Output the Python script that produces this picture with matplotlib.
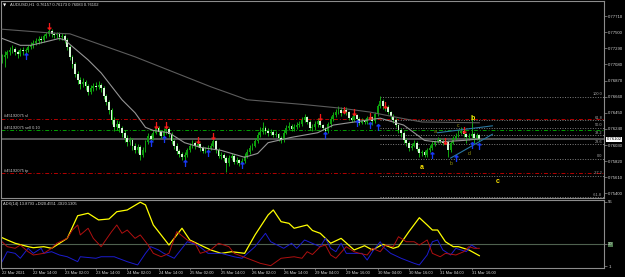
import numpy as np
import pandas as pd
import matplotlib
matplotlib.use('Agg')
import matplotlib.pyplot as plt

plt.rcParams['font.family'] = ['Liberation Sans', 'DejaVu Sans']

symbol_title = 'AUDUSD,H1  0.76157 0.76173 0.76083 0.76102'
adx_title = 'ADX(14) 13.8793 +DI20.4551 -DI20.1305'

# H1 bars, 22 Mar 02:00 .. 31 Mar 19:00
first_open = 0.7714
closes = [
    0.7718, 0.7720, 0.7724, 0.7727, 0.7728, 0.7724, 0.7722, 0.7727, 0.7725, 0.7727,
    0.7731, 0.7733, 0.7736, 0.7739, 0.7741, 0.7740, 0.7745, 0.7748, 0.7752, 0.7748,
    0.7746, 0.7748, 0.7744, 0.7745, 0.7740, 0.7731, 0.7718, 0.7709, 0.7696, 0.7688,
    0.7682, 0.7685, 0.7680, 0.7672, 0.7677, 0.7680, 0.7679, 0.7681, 0.7677, 0.7667,
    0.7659, 0.7649, 0.7636, 0.7626, 0.7630, 0.7625, 0.7619, 0.7612, 0.7607, 0.7609,
    0.7602, 0.7596, 0.7600, 0.7590, 0.7596, 0.7607, 0.7615, 0.7611, 0.7619, 0.7625,
    0.7620, 0.7615, 0.7621, 0.7624, 0.7617, 0.7608, 0.7602, 0.7595, 0.7591, 0.7587,
    0.7590, 0.7596, 0.7602, 0.7606, 0.7602, 0.7604, 0.7599, 0.7595, 0.7598, 0.7599,
    0.7602, 0.7608, 0.7596, 0.7589, 0.7590, 0.7586, 0.7579, 0.7586, 0.7589, 0.7581,
    0.7583, 0.7579, 0.7582, 0.7589, 0.7594, 0.7599, 0.7602, 0.7608, 0.7616, 0.7620,
    0.7625, 0.7621, 0.7619, 0.7620, 0.7616, 0.7617, 0.7612, 0.7609, 0.7619, 0.7625,
    0.7628, 0.7624, 0.7626, 0.7629, 0.7630, 0.7636, 0.7639, 0.7633, 0.7625, 0.7626,
    0.7630, 0.7634, 0.7629, 0.7625, 0.7621, 0.7630, 0.7637, 0.7642, 0.7646, 0.7649,
    0.7645, 0.7649, 0.7646, 0.7638, 0.7636, 0.7642, 0.7637, 0.7632, 0.7634, 0.7633,
    0.7638, 0.7639, 0.7634, 0.7643, 0.7654, 0.7660, 0.7654, 0.7652, 0.7646, 0.7641,
    0.7636, 0.7629, 0.7622, 0.7619, 0.7609, 0.7606, 0.7599, 0.7602, 0.7606, 0.7598,
    0.7592, 0.7594, 0.7590, 0.7596, 0.7599, 0.7604, 0.7607, 0.7609, 0.7608, 0.7606,
    0.7607, 0.7596, 0.7606, 0.7612, 0.7615, 0.7619, 0.7621, 0.7617, 0.7613, 0.7615,
    0.7617, 0.7612, 0.76157, 0.76102,
]
highs = [
    0.7722, 0.7725, 0.7727, 0.7731, 0.7733, 0.7731, 0.7727, 0.7729, 0.7731, 0.7730,
    0.7734, 0.7737, 0.7740, 0.7743, 0.7745, 0.7745, 0.7748, 0.7751, 0.7756, 0.7754,
    0.7751, 0.7751, 0.7750, 0.7749, 0.7748, 0.7742, 0.7733, 0.7721, 0.7711, 0.7699,
    0.7692, 0.7690, 0.7688, 0.7683, 0.7681, 0.7684, 0.7685, 0.7686, 0.7684, 0.7680,
    0.7670, 0.7662, 0.7651, 0.7639, 0.7635, 0.7634, 0.7628, 0.7622, 0.7616, 0.7613,
    0.7612, 0.7605, 0.7604, 0.7603, 0.7600, 0.7610, 0.7619, 0.7618, 0.7622, 0.7632,
    0.7628, 0.7623, 0.7625, 0.7631, 0.7627, 0.7620, 0.7611, 0.7605, 0.7598, 0.7594,
    0.7594, 0.7599, 0.7605, 0.7609, 0.7608, 0.7610, 0.7606, 0.7602, 0.7601, 0.7603,
    0.7605, 0.7612, 0.7610, 0.7599, 0.7594, 0.7592, 0.7589, 0.7590, 0.7593, 0.7591,
    0.7587, 0.7585, 0.7586, 0.7592, 0.7598, 0.7603, 0.7606, 0.7612, 0.7620, 0.7626,
    0.7633, 0.7628, 0.7625, 0.7624, 0.7623, 0.7621, 0.7619, 0.7615, 0.7622, 0.7629,
    0.7633, 0.7630, 0.7630, 0.7633, 0.7634, 0.7639, 0.7644, 0.7641, 0.7635, 0.7630,
    0.7634, 0.7638, 0.7636, 0.7631, 0.7627, 0.7633, 0.7641, 0.7646, 0.7650, 0.7654,
    0.7652, 0.7653, 0.7652, 0.7648, 0.7641, 0.7647, 0.7644, 0.7639, 0.7638, 0.7637,
    0.7641, 0.7643, 0.7641, 0.7646, 0.7657, 0.7667, 0.7663, 0.7657, 0.7655, 0.7648,
    0.7643, 0.7638, 0.7631, 0.7625, 0.7621, 0.7612, 0.7608, 0.7606, 0.7609, 0.7608,
    0.7600, 0.7597, 0.7596, 0.7599, 0.7603, 0.7608, 0.7610, 0.7613, 0.7612, 0.7611,
    0.7612, 0.7609, 0.7608, 0.7615, 0.7619, 0.7623, 0.7626, 0.7624, 0.7619, 0.7619,
    0.7642, 0.7620, 0.7619, 0.76173,
]
lows = [
    0.7710, 0.7705, 0.7717, 0.7721, 0.7723, 0.7720, 0.7717, 0.7719, 0.7721, 0.7720,
    0.7724, 0.7728, 0.7730, 0.7733, 0.7735, 0.7736, 0.7737, 0.7742, 0.7745, 0.7744,
    0.7742, 0.7743, 0.7740, 0.7740, 0.7736, 0.7727, 0.7714, 0.7704, 0.7692, 0.7683,
    0.7676, 0.7678, 0.7675, 0.7668, 0.7669, 0.7674, 0.7675, 0.7676, 0.7672, 0.7663,
    0.7655, 0.7644, 0.7631, 0.7621, 0.7622, 0.7620, 0.7614, 0.7607, 0.7602, 0.7603,
    0.7597, 0.7592, 0.7593, 0.7583, 0.7587, 0.7594, 0.7604, 0.7608, 0.7609, 0.7617,
    0.7616, 0.7612, 0.7613, 0.7618, 0.7614, 0.7604, 0.7598, 0.7591, 0.7587, 0.7584,
    0.7582, 0.7588, 0.7594, 0.7599, 0.7598, 0.7600, 0.7595, 0.7592, 0.7593, 0.7594,
    0.7596, 0.7600, 0.7593, 0.7586, 0.7585, 0.7582, 0.7568, 0.7576, 0.7583, 0.7578,
    0.7578, 0.7576, 0.7577, 0.7580, 0.7586, 0.7591, 0.7596, 0.7600, 0.7606, 0.7613,
    0.7617, 0.7618, 0.7615, 0.7616, 0.7613, 0.7613, 0.7608, 0.7606, 0.7607, 0.7617,
    0.7622, 0.7621, 0.7621, 0.7624, 0.7626, 0.7628, 0.7633, 0.7630, 0.7622, 0.7621,
    0.7623, 0.7627, 0.7626, 0.7622, 0.7618, 0.7619, 0.7627, 0.7634, 0.7639, 0.7643,
    0.7641, 0.7643, 0.7642, 0.7635, 0.7633, 0.7634, 0.7634, 0.7629, 0.7630, 0.7630,
    0.7631, 0.7635, 0.7629, 0.7632, 0.7641, 0.7651, 0.7650, 0.7648, 0.7643, 0.7637,
    0.7632, 0.7626, 0.7619, 0.7614, 0.7606, 0.7602, 0.7595, 0.7596, 0.7600, 0.7595,
    0.7588, 0.7589, 0.7587, 0.7588, 0.7594, 0.7597, 0.7602, 0.7605, 0.7605, 0.7603,
    0.7604, 0.7587, 0.7594, 0.7604, 0.7610, 0.7613, 0.7617, 0.7614, 0.7606, 0.7610,
    0.7612, 0.7606, 0.7609, 0.76083,
]

# moving averages (bar number, price)
slow_ma_bar = [0, 19, 26, 51, 80, 94, 115, 130, 141, 153, 161, 183]
slow_ma = [0.7754, 0.7749, 0.7748, 0.7718, 0.7679, 0.7662, 0.7656, 0.7651, 0.7646,
           0.7638, 0.7633, 0.7632]
fast_ma_bar = [0, 7, 11, 16, 22, 24, 33, 38, 46, 51, 55, 58, 64, 70, 76, 84, 93, 98,
               102, 111, 121, 127, 135, 145, 154, 162, 167, 177, 183]
fast_ma = [0.7742, 0.7733, 0.7733, 0.7737, 0.7742, 0.7740, 0.7714, 0.7697, 0.7662,
           0.7645, 0.7626, 0.7622, 0.7619, 0.7606, 0.7600, 0.7596, 0.7587, 0.7592,
           0.7606, 0.7613, 0.7619, 0.7629, 0.7633, 0.7638, 0.7629, 0.7609, 0.7607,
           0.7609, 0.7611]

# signal arrows
sell_sig_bar = [18, 59, 63, 75, 81, 122, 131, 135, 141, 147, 170, 177]
sell_sig = [0.7758, 0.7629, 0.7629, 0.7609, 0.7615, 0.7639, 0.7649, 0.7646, 0.7641,
            0.7655, 0.7608, 0.7622]
buy_sig_bar = [9, 57, 62, 70, 79, 92, 124, 136, 141, 144, 165, 174, 180, 183]
buy_sig = [0.7719, 0.7606, 0.7611, 0.7579, 0.7592, 0.7577, 0.7616, 0.7632, 0.7629,
           0.7626, 0.7590, 0.7586, 0.7603, 0.7602]

# wave labels
wave_text = ['a', 'b', 'c']
wave_bar = [161, 180.5, 190]
wave_price = [0.7574, 0.7638, 0.7555]
subwave_text = ['a', 'b', 'c', 'd']
subwave_bar = [166, 172, 175, 179]
subwave_price = [0.7621, 0.7579, 0.7628, 0.7592]

# triangle lines
tri_bar = [[167, 188], [172, 188]]
tri_price = [[0.7619, 0.7628], [0.7586, 0.7617]]

# order lines
order_names = ['#45192075 sl', '#45192075 sell 0.10', '#45192075 tp']
order_prices = [0.7637, 0.7622, 0.7566]
order_colors = ['#b40000', '#00a000', '#b40000']

# fibo
fib_start_bar = 145
fib_hi = 0.7666
fib_lo = 0.7585
fib_levels = [0.0, 23.6, 38.2, 50.0, 61.8, 100.0, -27.2, -61.8]

bid = 0.76102
price_ticks = [0.75400, 0.75610, 0.75820, 0.76030, 0.76240, 0.76450, 0.76660,
               0.76870, 0.77080, 0.77290, 0.77500, 0.77710]

# ADX(14)
adx_bar = [0, 2, 5, 10, 12, 16, 19, 21, 25, 29, 33, 37, 41, 44, 48, 53, 55, 58, 64, 69,
           72, 76, 80, 84, 88, 93, 97, 102, 104, 107, 110, 112, 117, 119, 122, 126, 130,
           135, 139, 142, 146, 150, 152, 156, 160, 163, 165, 167, 170, 173, 175, 179, 183]
adx = [25.4, 23.4, 20.6, 17.7, 16.8, 17.7, 16.3, 19.1, 24.8, 44.1, 46.2, 40.5, 41.3,
       47.5, 49.0, 55.6, 53.3, 36.2, 19.1, 33.4, 23.4, 19.1, 14.9, 12.0, 13.4, 12.0,
       27.7, 44.7, 49.0, 39.0, 37.6, 33.4, 36.2, 31.5, 29.1, 20.6, 24.8, 14.9, 18.5,
       14.9, 19.7, 16.3, 17.7, 30.5, 42.4, 36.2, 31.9, 31.9, 21.9, 17.7, 17.7, 14.9, 10.0]
pdi_bar = [0, 2, 5, 7, 10, 12, 15, 16, 19, 22, 25, 29, 30, 36, 38, 43, 48, 52, 55, 57,
           60, 62, 66, 69, 71, 75, 79, 84, 89, 92, 97, 101, 103, 108, 111, 113, 116, 119,
           122, 124, 126, 128, 130, 132, 136, 138, 140, 142, 145, 146, 149, 153, 158, 160,
           163, 165, 167, 169, 172, 174, 178, 180, 182]
pdi = [4.9, 13.4, 12.0, 7.8, 16.3, 12.0, 16.3, 12.0, 13.4, 10.6, 9.1, 4.9, 9.1, 7.8,
       9.1, 9.1, 4.9, 2.1, 12.0, 17.7, 14.9, 12.0, 7.8, 16.3, 21.9, 19.1, 12.0, 12.0,
       9.1, 7.8, 17.7, 29.1, 21.9, 16.3, 20.6, 16.3, 23.4, 20.5, 17.7, 24.8, 16.3, 13.4,
       20.6, 12.0, 12.0, 12.0, 6.3, 13.4, 21.9, 17.7, 12.0, 7.8, 3.5, 2.1, 10.6, 21.9,
       23.4, 14.9, 10.6, 16.3, 13.4, 19.1, 16.3]
mdi_bar = [0, 2, 5, 7, 10, 12, 16, 19, 21, 25, 27, 29, 30, 33, 35, 38, 42, 44, 46, 48,
           51, 53, 56, 58, 61, 64, 67, 71, 74, 76, 80, 83, 87, 89, 94, 99, 103, 107, 112,
           115, 117, 119, 122, 124, 126, 128, 132, 135, 137, 140, 142, 145, 147, 150, 152,
           155, 158, 160, 163, 165, 168, 170, 174, 177, 179, 181, 183]
mdi = [21.9, 17.7, 16.3, 19.1, 13.4, 10.6, 12.0, 16.3, 20.6, 24.8, 31.9, 36.2, 27.7,
       33.4, 24.8, 17.7, 30.5, 36.2, 29.1, 31.9, 24.8, 27.7, 19.1, 12.0, 9.1, 12.0, 30.5,
       23.4, 20.6, 12.0, 14.9, 20.6, 17.7, 12.0, 7.8, 3.5, 1.5, 7.8, 9.1, 7.8, 13.4,
       11.0, 17.7, 19.1, 10.6, 7.8, 17.7, 13.4, 12.0, 10.6, 16.3, 13.4, 19.1, 17.7, 26.2,
       21.9, 21.9, 19.1, 23.4, 12.0, 9.1, 12.0, 10.6, 13.4, 17.7, 16.3, 16.3]
adx_level = 20
adx_ticks = [1, 20, 56]

times = pd.date_range('2021-03-22 02:00', '2021-03-26 21:00', freq='h').append(
    pd.date_range('2021-03-29 00:00', '2021-03-31 19:00', freq='h'))

c = np.array(closes)
h = np.array(highs)
l = np.array(lows)
o = np.r_[first_open, c[:-1]]
k = np.arange(len(c))

fg = '#d8d8d8'
frame = '#8c8c8c'
fs = 3.1

fig = plt.figure(figsize=(6.25, 2.77), dpi=100, facecolor='black')
ax = fig.add_axes([1 / 625, 79 / 277, 603 / 625, 197 / 277], facecolor='black')
ax2 = fig.add_axes([1 / 625, 9 / 277, 603 / 625, 68 / 277], facecolor='black', sharex=ax)

for a in (ax, ax2):
    for s in a.spines.values():
        s.set_color(frame)
        s.set_linewidth(0.8)
    a.yaxis.tick_right()
    a.tick_params(axis='y', colors=frame, labelcolor=fg, labelsize=fs, length=2,
                  width=0.5, pad=1)

ax.set_xlim(-0.4, 230.8)
ax.set_ylim(0.75339, 0.77908)
ax2.set_ylim(-0.5, 57.5)

# order lines + bid line
for name, p, col in zip(order_names, order_prices, order_colors):
    ax.axhline(p, color=col, lw=0.7, ls=(0, (4, 2, 1, 2)), zorder=1)
    ax.annotate(name, xy=(0.005, p), xycoords=('axes fraction', 'data'),
                xytext=(0, 0.4), textcoords='offset points', va='bottom', ha='left',
                fontsize=2.9, color='#c8c8c8')
ax.axhline(bid, color='#555555', lw=1.4, zorder=1)

# fibo
for lv in fib_levels:
    p = fib_lo + (fib_hi - fib_lo) * lv / 100
    ax.plot([fib_start_bar, 231], [p, p], color='#808080', lw=0.7,
            ls=(0, (1, 1.6)), zorder=1)
    ax.annotate('%.1f' % lv, xy=(0.997, p), xycoords=('axes fraction', 'data'),
                xytext=(0, 0.3), textcoords='offset points', va='bottom', ha='right',
                fontsize=2.8, color='#a8a8a8')

# candles
up = c >= o
body = np.maximum(np.abs(c - o), 0.00004)
ax.vlines(k, l, h, color='#12b412', lw=0.65, zorder=2)
ax.bar(k[up], body[up], bottom=o[up], width=0.7, color='#0c9c0c', lw=0, zorder=2)
ax.bar(k[~up], body[~up], bottom=c[~up], width=0.7, color='#d6f8d6', lw=0, zorder=2)

ax.plot(slow_ma_bar, slow_ma, color='#5c5c5c', lw=0.8, zorder=3)
ax.plot(fast_ma_bar, fast_ma, color='#959595', lw=0.8, zorder=3)

ax.scatter(sell_sig_bar, sell_sig, marker=r'$\downarrow$', s=22, color='#ff1a1a',
           linewidths=0.4, zorder=4)
ax.scatter(buy_sig_bar, buy_sig, marker=r'$\uparrow$', s=22, color='#1a3cff',
           linewidths=0.4, zorder=4)

for xs, ys in zip(tri_bar, tri_price):
    ax.plot(xs, ys, color='#2a78a2', lw=0.8, zorder=3)

for t, xb, p in zip(wave_text, wave_bar, wave_price):
    ax.text(xb, p, t, color='#ffe600', fontsize=5, fontweight='bold', ha='center',
            va='center', zorder=5)
for t, xb, p in zip(subwave_text, subwave_bar, subwave_price):
    ax.text(xb, p, t, color='#9a9a10', fontsize=3.6, ha='center', va='center', zorder=5)

ax.text(0.004, 0.987, '\u25bc', transform=ax.transAxes, fontsize=3, color='white',
        va='top', ha='left', family=['DejaVu Sans'])
ax.text(0.015, 0.99, symbol_title, transform=ax.transAxes, fontsize=3, color=fg,
        va='top', ha='left')

ax.set_yticks(price_ticks)
ax.set_yticklabels(['%.5f' % v for v in price_ticks])
ax.tick_params(axis='x', bottom=False, labelbottom=False)
ax.text(1.004, bid, '%.5f' % bid, transform=ax.get_yaxis_transform(), fontsize=fs,
        color='black', va='center', ha='left', clip_on=False,
        bbox=dict(boxstyle='square,pad=0.15', fc='white', ec='none'))

# ADX pane
ax2.axhline(adx_level, color='#4f614f', lw=0.8)
ax2.plot(adx_bar, adx, color='#ffff00', lw=0.9)
ax2.plot(pdi_bar, pdi, color='#1c1cd0', lw=0.7)
ax2.plot(mdi_bar, mdi, color='#b01010', lw=0.7)
ax2.text(0.004, 0.965, adx_title, transform=ax2.transAxes, fontsize=2.9, color=fg,
         va='top', ha='left')
ax2.set_yticks(adx_ticks)
ax2.set_yticklabels([str(v) for v in adx_ticks])
for lab in ax2.get_yticklabels():
    if lab.get_text() == str(adx_level):
        lab.set_bbox(dict(boxstyle='square,pad=0.15', fc='#4f7a4f', ec='none'))

tick_k = list(range(0, len(times), 12))
tick_lab = [times[i].strftime('%d %b %H:%M') for i in tick_k]
tick_lab[0] = times[0].strftime('%d %b %Y')
ax2.set_xticks(tick_k)
ax2.set_xticklabels(tick_lab, ha='left')
ax2.tick_params(axis='x', colors=frame, labelcolor=fg, labelsize=2.9, length=1.5,
                width=0.5, pad=0.8)

fig.savefig('out.png', dpi=100, facecolor='black')
